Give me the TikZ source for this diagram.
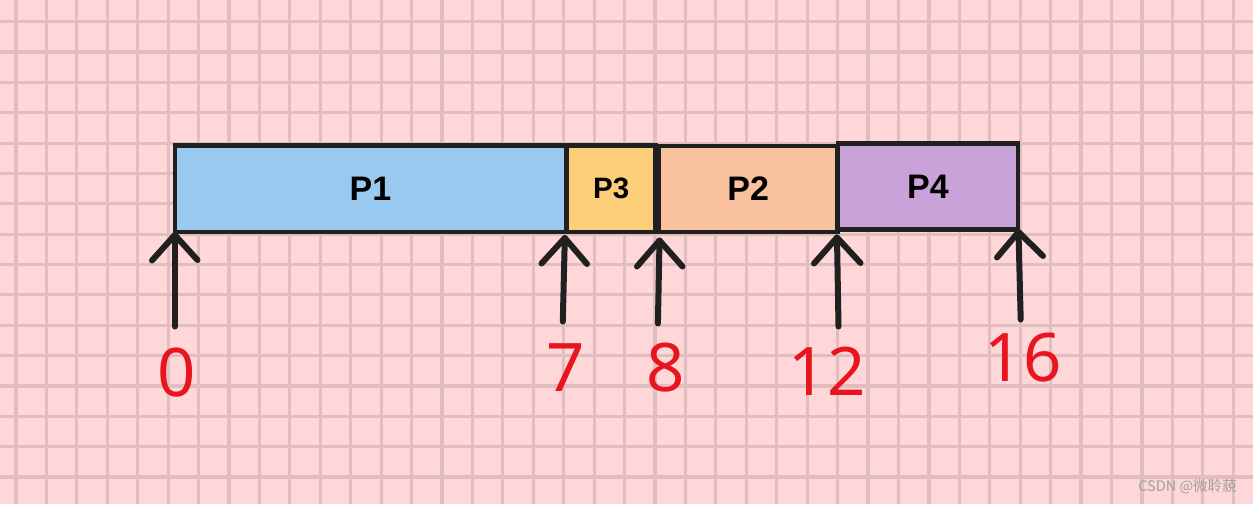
\documentclass[tikz,border=0pt]{standalone}
\usepackage{fontspec}
\setmainfont{Liberation Sans}
\newfontfamily\numfont{Noto Sans}
\newfontfamily\cjk{Noto Sans CJK SC}
\definecolor{bgpink}{RGB}{255,215,216}
\definecolor{gridc}{RGB}{224,190,192}
\definecolor{edge}{RGB}{32,32,32}
\definecolor{cP1}{RGB}{153,201,239}
\definecolor{cP3}{RGB}{252,206,122}
\definecolor{cP2}{RGB}{249,193,158}
\definecolor{cP4}{RGB}{200,162,216}
\definecolor{numred}{RGB}{232,20,30}
\begin{document}
\begin{tikzpicture}[x=1pt,y=-1pt,
  procbox/.style={draw=edge, line width=4.5pt, inner sep=0pt, outer sep=0pt,
    font=\fontsize{34}{34}\selectfont\bfseries, text=black},
  pointer/.style={draw=edge, line width=6pt, line cap=round, line join=round},
  numlabel/.style={inner sep=0pt, text=numred, font=\numfont\fontsize{67}{67}\selectfont}]
\useasboundingbox (0,0) rectangle (1253,504);
\fill[bgpink] (0,0) rectangle (1253,504);
% grid
\foreach \k in {0,...,40} {
  \draw[gridc, line width=3.2pt] ({16+30.43*\k},0) -- ({16+30.43*\k},504);
}
\foreach \k in {0,...,15} {
  \draw[gridc, line width=3.2pt] (0,{21.7+30.35*\k}) -- (1253,{21.7+30.35*\k});
}
% process boxes
\node[procbox, fill=cP1, minimum width=391pt, minimum height=86.7pt] (p1) at (370.5,188.7) {P1};
\node[procbox, fill=cP3, minimum width=88.5pt, minimum height=86.7pt,
      font=\fontsize{29.5}{29.5}\selectfont\bfseries] (p3) at (611.25,188.7) {P3};
\node[procbox, fill=cP2, minimum width=178.5pt, minimum height=86pt] (p2) at (748.25,189) {P2};
\node[procbox, fill=cP4, minimum width=180pt, minimum height=85.8pt] (p4) at (928,186.6) {P4};
% pointer coordinates
\coordinate (t0) at (174.8,235);   \coordinate (b0) at (174.8,326.5);
\coordinate (l0) at (152,260.5);   \coordinate (r0) at (197.5,260);
\coordinate (t7) at (564.8,238);   \coordinate (b7) at (562.8,321.5);
\coordinate (l7) at (541.5,263.5); \coordinate (r7) at (587,264);
\coordinate (t8) at (659.5,240.5); \coordinate (b8) at (657.9,323.5);
\coordinate (l8) at (637,266.5);   \coordinate (r8) at (682.5,266.5);
\coordinate (t12) at (837,237.5);  \coordinate (b12) at (838.5,326.5);
\coordinate (l12) at (814,263.5);  \coordinate (r12) at (860.5,263);
\coordinate (t16) at (1018.5,232); \coordinate (b16) at (1020.7,319.5);
\coordinate (l16) at (997,257.5);  \coordinate (r16) at (1043,256);
\foreach \n in {0,7,8,12,16} {
  \draw[pointer] (b\n) -- (t\n);
  \draw[pointer] (l\n) -- (t\n) -- (r\n);
}
% numbers
\node[numlabel] (n0) at (176.6,372.3) {0};
\node[numlabel] (n7) at (565.7,367.2) {7};
\node[numlabel] (n8) at (666,367.7) {8};
\node[numlabel] (n12) at (827,371.3) {12};
\node[numlabel] (n16) at (1023,357.5) {16};
% watermark
\node[inner sep=0pt, text={rgb,255:red,160;green,160;blue,160}, font=\cjk\fontsize{14.5}{14.5}\selectfont] (wm) at (1187.5,486.5) {CSDN @微聆藐};
\end{tikzpicture}
\end{document}
